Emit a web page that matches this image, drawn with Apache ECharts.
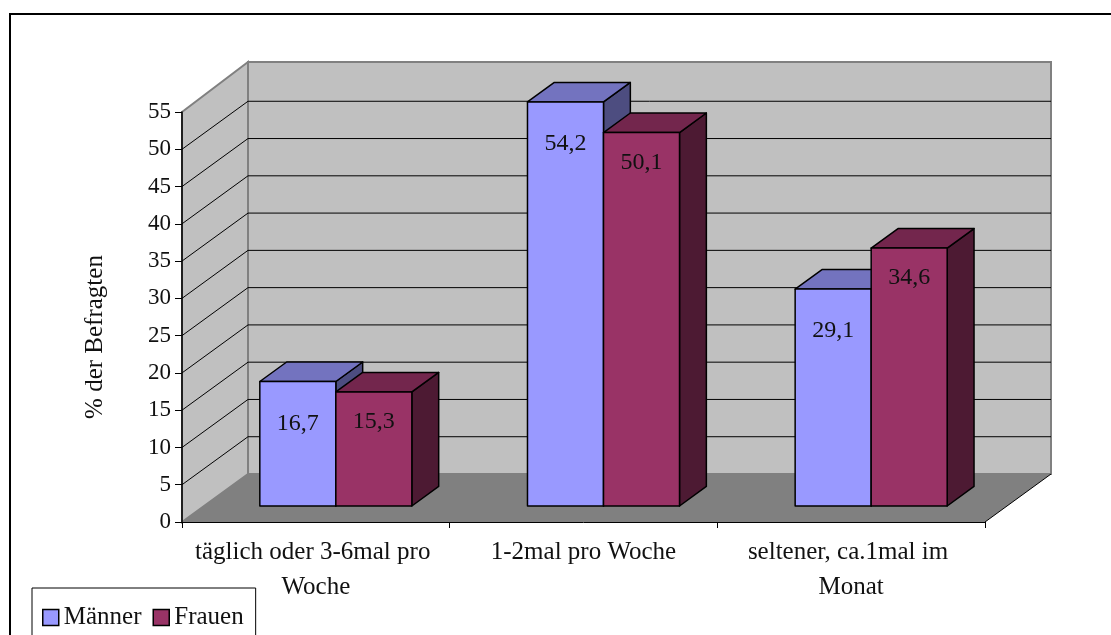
<!DOCTYPE html>
<html>
<head>
<meta charset="utf-8">
<script src="https://cdn.jsdelivr.net/npm/echarts@6/dist/echarts.min.js"></script>
<style>
  html, body { margin: 0; padding: 0; background: #fff; }
  #chart { width: 1111px; height: 635px; }
</style>
</head>
<body>
<div id="chart"></div>
<script>
// Data
const categories = ['täglich oder 3-6mal pro Woche', '1-2mal pro Woche', 'seltener, ca.1mal im Monat'];
const maenner = [16.7, 54.2, 29.1];
const frauen = [15.3, 50.1, 34.6];
const seriesNames = ['Männer', 'Frauen'];
const yAxisTitle = '% der Befragten';
const yMax = 55;
const yStep = 5;

// Pseudo-3D look: depth projection of the plot box, in pixels
const DEPTH_X = 66;
const DEPTH_Y = 48;
const BAR_FRONT = 1 / 3;    // bar front plane as fraction of depth
const BAR_BACK = 0.74;      // bar back plane as fraction of depth
const BAR_FRAC = 0.284;     // bar width as fraction of category band
const FONT = '"Liberation Serif", "DejaVu Serif", serif';

const palette = [
  { front: '#9999ff', top: '#7373bf', side: '#4d4d80', labelOffset: 42 },
  { front: '#993366', top: '#73264d', side: '#4d1a33', labelOffset: 30 }
];

const fmt = v => String(v).replace('.', ',');

function frameRenderer(params, api) {
  const cs = params.coordSys;
  const xL = cs.x, xR = cs.x + cs.width, yT = cs.y, yB = cs.y + cs.height;
  const children = [];
  // back wall
  children.push({
    type: 'rect',
    shape: { x: xL + DEPTH_X, y: yT - DEPTH_Y - 2, width: xR - xL, height: yB - yT + 2 },
    style: { fill: '#c0c0c0', stroke: '#808080', lineWidth: 2 }
  });
  // side wall
  children.push({
    type: 'polygon',
    shape: { points: [[xL, yT], [xL + DEPTH_X, yT - DEPTH_Y - 2], [xL + DEPTH_X, yB - DEPTH_Y], [xL, yB]] },
    style: { fill: '#c0c0c0', stroke: '#808080', lineWidth: 2 }
  });
  // gridlines on side and back walls
  for (let v = yStep; v < yMax; v += yStep) {
    const y = api.coord([0, v])[1];
    children.push({
      type: 'polyline',
      shape: { points: [[xL, y], [xL + DEPTH_X, y - DEPTH_Y], [xR + DEPTH_X, y - DEPTH_Y]] },
      style: { stroke: '#000', lineWidth: 1, fill: null }
    });
  }
  // floor
  children.push({
    type: 'polygon',
    shape: { points: [[xL, yB], [xL + DEPTH_X, yB - DEPTH_Y], [xR + DEPTH_X, yB - DEPTH_Y], [xR, yB]] },
    style: { fill: '#808080' }
  });
  children.push({
    type: 'line',
    shape: { x1: xR, y1: yB, x2: xR + DEPTH_X, y2: yB - DEPTH_Y },
    style: { stroke: '#000', lineWidth: 1 }
  });
  return { type: 'group', children };
}

function barRenderer(seriesIdx) {
  const col = palette[seriesIdx];
  return function (params, api) {
    const cat = api.value(0);
    const val = api.value(1);
    const base = api.coord([cat, 0]);
    const top = api.coord([cat, val]);
    const band = api.size([1, 0])[0];
    const w = band * BAR_FRAC;
    const fx = DEPTH_X * BAR_FRONT, fy = -DEPTH_Y * BAR_FRONT;
    const bx = DEPTH_X * BAR_BACK, by = -DEPTH_Y * BAR_BACK;
    const xl = base[0] + (seriesIdx === 0 ? -w : 0) - 2;
    const xr = xl + w;
    const yt = top[1], yb = base[1];
    const edge = { stroke: '#000', lineWidth: 1.5, lineJoin: 'round' };
    return {
      type: 'group',
      children: [
        {
          type: 'polygon',
          shape: { points: [[xr + fx, yt + fy], [xr + bx, yt + by], [xr + bx, yb + by], [xr + fx, yb + fy]] },
          style: Object.assign({ fill: col.side }, edge)
        },
        {
          type: 'polygon',
          shape: { points: [[xl + fx, yt + fy], [xr + fx, yt + fy], [xr + bx, yt + by], [xl + bx, yt + by]] },
          style: Object.assign({ fill: col.top }, edge)
        },
        {
          type: 'rect',
          shape: { x: xl + fx, y: yt + fy, width: w, height: yb - yt },
          style: Object.assign({ fill: col.front }, edge)
        },
        {
          type: 'text',
          x: (xl + xr) / 2 + fx,
          y: yt + fy + col.labelOffset,
          style: {
            text: fmt(val), font: '24px ' + FONT, fill: '#111',
            align: 'center', verticalAlign: 'middle'
          }
        }
      ]
    };
  };
}

const chart = echarts.init(document.getElementById('chart'), null, { renderer: 'canvas' });

chart.setOption({
  backgroundColor: '#fff',
  animation: false,
  grid: { left: 182, right: 126, top: 112, bottom: 113, containLabel: false },
  xAxis: {
    type: 'category',
    data: categories,
    axisLine: { show: true, lineStyle: { color: '#000', width: 1 } },
    axisTick: { show: true, length: 6, alignWithLabel: false, lineStyle: { color: '#000' } },
    axisLabel: {
      interval: 0, margin: 13, color: '#111', fontFamily: FONT, fontSize: 25,
      lineHeight: 35, width: 260, overflow: 'break', align: 'center'
    },
    splitLine: { show: false }
  },
  yAxis: {
    type: 'value',
    min: 0, max: yMax, interval: yStep,
    axisLine: { show: true, lineStyle: { color: '#000', width: 1.5 } },
    axisTick: { show: true, length: 7, lineStyle: { color: '#000' } },
    axisLabel: { margin: 11, color: '#111', fontFamily: FONT, fontSize: 23 },
    splitLine: { show: false }
  },
  legend: {
    data: seriesNames,
    left: 32, top: 588,
    icon: 'rect',
    itemWidth: 16, itemHeight: 16, itemGap: 11,
    padding: [17, 12, 40, 10],
    borderColor: '#000', borderWidth: 1,
    selectedMode: false,
    itemStyle: { borderColor: '#000', borderWidth: 1.5 },
    textStyle: { fontFamily: FONT, fontSize: 25, color: '#111' }
  },
  graphic: [
    {
      type: 'rect', silent: true,
      shape: { x: 10, y: 14, width: 1300, height: 800 },
      style: { fill: null, stroke: '#000', lineWidth: 2 }
    },
    {
      type: 'text', x: 95, y: 337, rotation: Math.PI / 2, silent: true,
      style: {
        text: yAxisTitle, font: '25px ' + FONT, fill: '#111',
        align: 'center', verticalAlign: 'middle'
      }
    }
  ],
  series: [
    {
      type: 'custom', name: 'frame', z: -1, silent: true, clip: false,
      renderItem: frameRenderer,
      data: [[0, 0]]
    },
    {
      type: 'custom', name: seriesNames[0], clip: false,
      itemStyle: { color: palette[0].front },
      renderItem: barRenderer(0),
      data: maenner.map((v, i) => [i, v])
    },
    {
      type: 'custom', name: seriesNames[1], clip: false,
      itemStyle: { color: palette[1].front },
      renderItem: barRenderer(1),
      data: frauen.map((v, i) => [i, v])
    }
  ]
});
</script>
</body>
</html>
